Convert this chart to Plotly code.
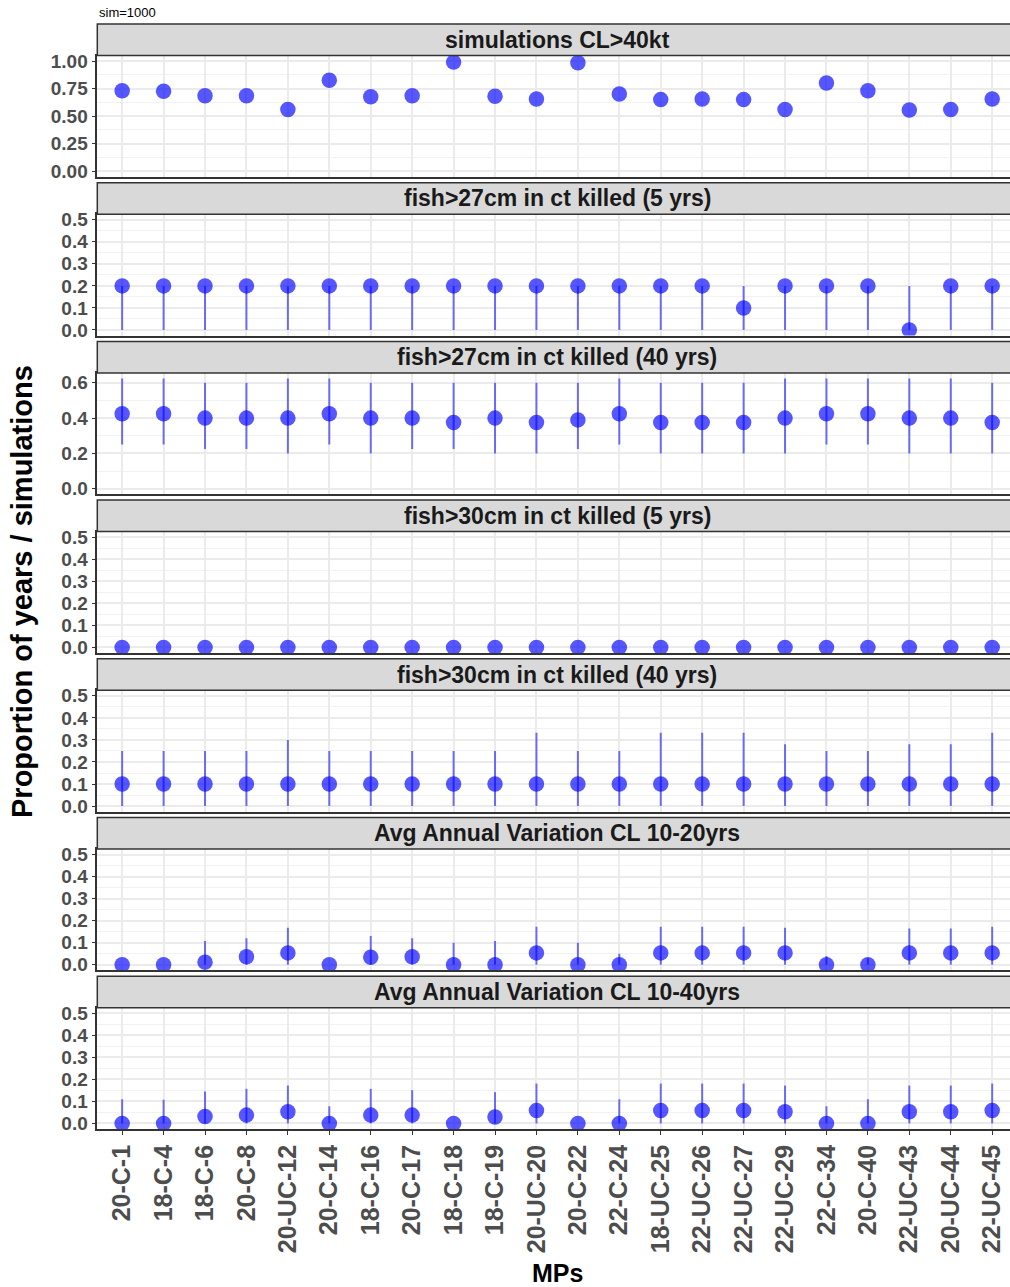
import plotly.graph_objects as go

# ---------------- data ----------------
categories = ["20-C-1", "18-C-4", "18-C-6", "20-C-8", "20-UC-12", "20-C-14", "18-C-16",
              "20-C-17", "18-C-18", "18-C-19", "20-UC-20", "20-C-22", "22-C-24", "18-UC-25",
              "22-UC-26", "22-UC-27", "22-UC-29", "22-C-34", "20-C-40", "22-UC-43",
              "20-UC-44", "22-UC-45"]

panel_titles = ["simulations CL>40kt",
                "fish>27cm in ct killed (5 yrs)",
                "fish>27cm in ct killed (40 yrs)",
                "fish>30cm in ct killed (5 yrs)",
                "fish>30cm in ct killed (40 yrs)",
                "Avg Annual Variation CL 10-20yrs",
                "Avg Annual Variation CL 10-40yrs"]

cl40_val = [0.73, 0.725, 0.685, 0.685, 0.56, 0.825, 0.675, 0.685, 0.99, 0.68, 0.655,
            0.985, 0.70, 0.65, 0.655, 0.65, 0.56, 0.80, 0.73, 0.555, 0.56, 0.655]
cl40_lo = cl40_val
cl40_hi = cl40_val

f27_5_val = [0.2, 0.2, 0.2, 0.2, 0.2, 0.2, 0.2, 0.2, 0.2, 0.2, 0.2,
             0.2, 0.2, 0.2, 0.2, 0.1, 0.2, 0.2, 0.2, 0.0, 0.2, 0.2]
f27_5_lo = [0.0] * 22
f27_5_hi = [0.2] * 22

f27_40_val = [0.425, 0.425, 0.4, 0.4, 0.4, 0.425, 0.4, 0.4, 0.375, 0.4, 0.375,
              0.39, 0.425, 0.375, 0.375, 0.375, 0.4, 0.425, 0.425, 0.4, 0.4, 0.375]
f27_40_lo = [0.25, 0.25, 0.225, 0.225, 0.2, 0.25, 0.2, 0.225, 0.225, 0.2, 0.2,
             0.225, 0.25, 0.2, 0.2, 0.2, 0.2, 0.25, 0.25, 0.2, 0.2, 0.2]
f27_40_hi = [0.625, 0.625, 0.6, 0.6, 0.625, 0.625, 0.6, 0.6, 0.6, 0.6, 0.6,
             0.6, 0.625, 0.6, 0.6, 0.6, 0.625, 0.625, 0.625, 0.625, 0.625, 0.6]

f30_5_val = [0.0] * 22
f30_5_lo = [0.0] * 22
f30_5_hi = [0.0] * 22

f30_40_val = [0.1] * 22
f30_40_lo = [0.0] * 22
f30_40_hi = [0.25, 0.25, 0.25, 0.25, 0.3, 0.25, 0.25, 0.25, 0.25, 0.25, 0.333,
             0.25, 0.25, 0.333, 0.333, 0.333, 0.28, 0.25, 0.25, 0.28, 0.28, 0.333]

aav20_val = [0.0, 0.0, 0.012, 0.036, 0.054, 0.0, 0.034, 0.036, 0.0, 0.0, 0.054,
             0.0, 0.0, 0.054, 0.054, 0.054, 0.054, 0.0, 0.0, 0.054, 0.054, 0.054]
aav20_lo = [0.0] * 22
aav20_hi = [0.0, 0.0, 0.108, 0.12, 0.168, 0.0, 0.131, 0.12, 0.10, 0.108, 0.172,
            0.10, 0.05, 0.172, 0.172, 0.172, 0.168, 0.04, 0.03, 0.165, 0.165, 0.172]

aav40_val = [0.0, 0.0, 0.032, 0.038, 0.053, 0.0, 0.038, 0.038, 0.0, 0.029, 0.059,
             0.0, 0.0, 0.059, 0.059, 0.059, 0.053, 0.0, 0.0, 0.053, 0.053, 0.059]
aav40_lo = [0.0] * 22
aav40_hi = [0.11, 0.108, 0.145, 0.157, 0.172, 0.078, 0.157, 0.151, 0.0, 0.142, 0.181,
            0.0, 0.11, 0.181, 0.181, 0.181, 0.172, 0.078, 0.11, 0.172, 0.172, 0.181]

panels = [
    (cl40_val, cl40_lo, cl40_hi),
    (f27_5_val, f27_5_lo, f27_5_hi),
    (f27_40_val, f27_40_lo, f27_40_hi),
    (f30_5_val, f30_5_lo, f30_5_hi),
    (f30_40_val, f30_40_lo, f30_40_hi),
    (aav20_val, aav20_lo, aav20_hi),
    (aav40_val, aav40_lo, aav40_hi),
]

# y-axis settings per panel: (range, dtick, minor dtick, format)
yaxis_cfg = [
    ([-0.05, 1.05], 0.25, 0.125, ".2f"),
    ([-0.025, 0.525], 0.1, 0.05, ".1f"),
    ([-0.03125, 0.65625], 0.2, 0.1, ".1f"),
    ([-0.025, 0.525], 0.1, 0.05, ".1f"),
    ([-0.025, 0.525], 0.1, 0.05, ".1f"),
    ([-0.025, 0.525], 0.1, 0.05, ".1f"),
    ([-0.025, 0.525], 0.1, 0.05, ".1f"),
]

# ---------------- layout geometry (pixels) ----------------
W, H = 1010, 1287
FONT = "Liberation Sans, Arial, sans-serif"
left_px = 97.3
first_strip_top = 24.0
period = 158.7
strip_h = 31.5
panel_h = 121.3


def py(px):
    return 1 - px / H


fig = go.Figure()
layout = dict(
    width=W, height=H, autosize=False,
    margin=dict(l=0, r=0, t=0, b=0),
    paper_bgcolor="white", plot_bgcolor="white",
    showlegend=False,
    font=dict(family=FONT),
    shapes=[], annotations=[],
)

for i, (vals, lo, hi) in enumerate(panels):
    n = i + 1
    xa = "x" if n == 1 else f"x{n}"
    ya = "y" if n == 1 else f"y{n}"
    plus = [h - v for v, h in zip(vals, hi)]
    minus = [v - l for v, l in zip(vals, lo)]
    fig.add_trace(go.Scatter(
        x=categories, y=vals, mode="markers", xaxis=xa, yaxis=ya,
        marker=dict(size=15.5, color="rgba(0,0,255,0.66)", line=dict(width=0)),
        error_y=dict(type="data", symmetric=False, array=plus, arrayminus=minus,
                     width=0, thickness=2, color="rgba(0,0,255,0.55)"),
        hoverinfo="x+y",
    ))
    strip_top = first_strip_top + i * period
    p_top = strip_top + strip_h
    p_bot = p_top + panel_h
    rng, dt, mdt, fmt = yaxis_cfg[i]
    last = (n == len(panels))
    layout["xaxis" if n == 1 else f"xaxis{n}"] = dict(
        domain=[left_px / W, 1.0], anchor=ya,
        type="category", categoryorder="array", categoryarray=categories,
        range=[-0.6, 21.43],
        showgrid=True, gridcolor="#EBEBEB", gridwidth=1.5,
        showline=True, linecolor="#333333", linewidth=1.8, mirror=True,
        zeroline=False,
        showticklabels=last,
        ticks="outside" if last else "", ticklen=4, tickwidth=1.2, tickcolor="#333333",
        tickangle=-90,
        tickfont=dict(family=FONT, size=25, color="#4D4D4D", weight="bold"),
        automargin=False, fixedrange=True,
    )
    layout["yaxis" if n == 1 else f"yaxis{n}"] = dict(
        domain=[py(p_bot), py(p_top)], anchor=xa,
        range=rng, dtick=dt, tick0=0, tickformat=fmt,
        showgrid=True, gridcolor="#EBEBEB", gridwidth=1.5,
        minor=dict(dtick=mdt, tick0=0, showgrid=True, gridcolor="#F2F2F2", gridwidth=1, ticks=""),
        showline=True, linecolor="#333333", linewidth=1.5, mirror=False,
        zeroline=False,
        ticks="outside", ticklen=4, tickwidth=1.2, tickcolor="#333333",
        tickfont=dict(family=FONT, size=19, color="#4D4D4D", weight="bold"),
        automargin=False, fixedrange=True,
    )
    # facet strip
    layout["shapes"].append(dict(
        type="rect", xref="paper", yref="paper",
        x0=left_px / W, x1=1.01, y0=py(p_top), y1=py(strip_top),
        fillcolor="#D9D9D9", line=dict(color="#333333", width=1.5), layer="above",
    ))
    layout["annotations"].append(dict(
        text=panel_titles[i], xref="paper", yref="paper",
        x=557 / W, y=py(strip_top + strip_h / 2), xanchor="center", yanchor="middle",
        showarrow=False,
        font=dict(family=FONT, size=23, color="#1A1A1A", weight="bold"),
    ))

# titles
layout["annotations"].append(dict(
    text="Proportion of years / simulations", xref="paper", yref="paper",
    x=22 / W, y=py(592), xanchor="center", yanchor="middle", textangle=-90,
    showarrow=False, font=dict(family=FONT, size=29, color="black", weight="bold"),
))
layout["annotations"].append(dict(
    text="MPs", xref="paper", yref="paper",
    x=557 / W, y=py(1273), xanchor="center", yanchor="middle",
    showarrow=False, font=dict(family=FONT, size=25, color="black", weight="bold"),
))
layout["annotations"].append(dict(
    text="sim=1000", xref="paper", yref="paper",
    x=97 / W, y=py(12), xanchor="left", yanchor="middle",
    showarrow=False, font=dict(family=FONT, size=13, color="black"),
))

fig.update_layout(**layout)
fig.write_html("out.html")
